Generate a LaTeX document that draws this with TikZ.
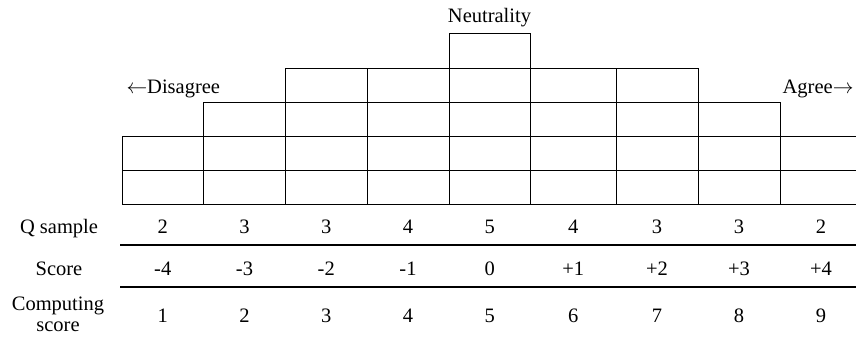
\documentclass[tikz,border=0pt]{standalone}
\usepackage{fontspec}
\setmainfont{Liberation Serif}
\begin{document}
\begin{tikzpicture}[x=1pt,y=-1pt,line width=1pt,
  lbl/.style={font=\fontsize{20.5}{22}\selectfont, inner sep=0pt, anchor=base},
  cellbox/.style={draw=black},
  rule/.style={draw=black, line width=1.2pt}]
\useasboundingbox (0,0) rectangle (856,337);
\clip (0,0) rectangle (856,337);
\def\xs{{122,203.5,285.5,367,449,530.5,616,698,780,862}}
\def\hs{{2,3,4,4,5,4,4,3,2}}
\def\qs{{2,3,3,4,5,4,3,3,2}}
\def\sc{{"-4","-3","-2","-1","0","+1","+2","+3","+4"}}
\foreach \i in {0,...,8}{
  \pgfmathsetmacro{\xa}{\xs[\i]}
  \pgfmathsetmacro{\xb}{\xs[\i+1]}
  \pgfmathsetmacro{\xc}{(\xa+\xb)/2}
  \pgfmathtruncatemacro{\h}{\hs[\i]}
  \foreach \k in {1,...,\h}{
    \draw[cellbox] (\xa,{204-34*\k}) rectangle (\xb,{204-34*(\k-1)});
  }
  \pgfmathtruncatemacro{\q}{\qs[\i]}
  \pgfmathsetmacro{\s}{\sc[\i]}
  \pgfmathtruncatemacro{\c}{\i+1}
  \node[lbl] (q\i) at (\xc,233) {\q};
  \node[lbl] (s\i) at (\xc,275) {\s};
  \node[lbl] (c\i) at (\xc,322) {\c};
}
\draw[rule] (120,245) -- (856,245);
\draw[rule] (120,287) -- (856,287);
\node[lbl] (qlab) at (59,233) {Q sample};
\node[lbl] (slab) at (59,275) {Score};
\node[lbl] (clab1) at (58,310) {Computing};
\node[lbl] (clab2) at (58,331.5) {score};
\node[lbl] (neu) at (489.5,23) {Neutrality};
\node[lbl, anchor=base west] (dis) at (126,93) {$\leftarrow$Disagree};
\node[lbl, anchor=base east] (agr) at (854,93) {Agree$\rightarrow$};
\end{tikzpicture}
\end{document}
